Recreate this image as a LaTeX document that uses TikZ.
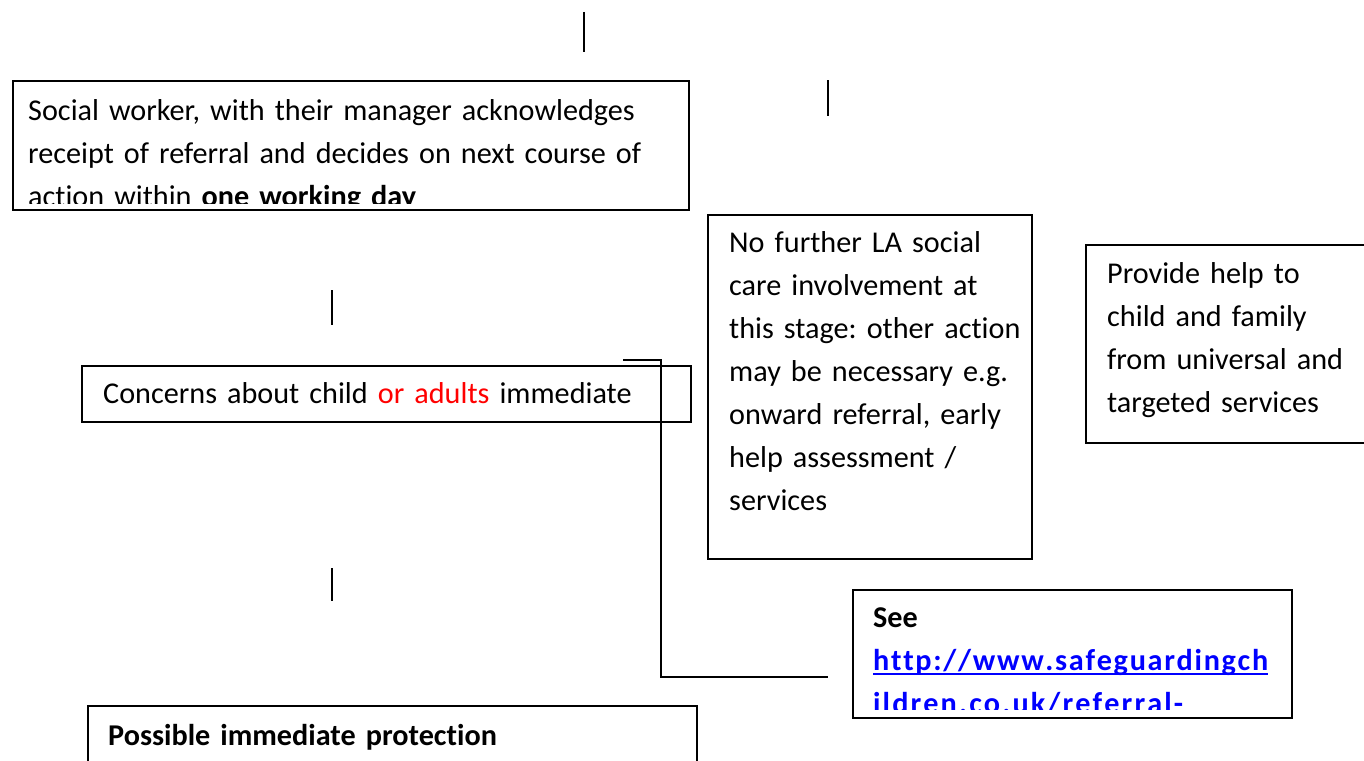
\documentclass[tikz,border=0pt]{standalone}
\usepackage{fontspec}
\setmainfont{Carlito}[Ligatures={NoCommon}]
\definecolor{linkblue}{RGB}{0,0,255}
\makeatletter
\newcommand{\spreadto}[2]{\hbox to #1{\@tfor\@ch:=#2\do{\@ch\hfil}\unskip}}
\makeatother
\newcommand{\ulink}[1]{\setbox0\hbox{#1}\rlap{\rule[-5pt]{\wd0}{2pt}}\box0}
\begin{document}
\begin{tikzpicture}[x=1pt,y=-1pt,
  frame/.style={draw=black, line width=2pt, inner sep=0pt, outer sep=0pt, anchor=north west, rectangle},
  txt/.style={anchor=base west, inner sep=0pt, align=left, text width=#1, font=\fontsize{30.2}{43}\selectfont\frenchspacing},
  conn/.style={draw=black, line width=2pt},
  tick/.style={draw=black, line width=2pt}]
\useasboundingbox (0,0) rectangle (1364,760);

% texts (clipped to their boxes)
\begin{scope}
\clip (13,81) rectangle (689,203);
\node[txt=700] (t1) at (28,120) {Social worker, with their manager acknowledges\\receipt of referral and decides on next course of\\action within \textbf{one working day}};
\end{scope}
\node[txt=700] (t2) at (103,403) {Concerns about child \textcolor{red}{or adults} immediate};
\node[txt=320] (t3) at (729,252) {No further LA social\\care involvement at\\this stage: other action\\may be necessary e.g.\\onward referral, early\\help assessment /\\services};
\node[txt=300] (t4) at (1107,283) {Provide help to\\child and family\\from universal and\\targeted services};
\begin{scope}
\clip (853,590) rectangle (1292,709);
\node[txt=440] (t5) at (873,627) {\textbf{See}\\\textbf{\textcolor{linkblue}{\ulink{\spreadto{395pt}{http://www.safeguardingch}}}}\\\textbf{\textcolor{linkblue}{\ulink{\spreadto{310pt}{ildren.co.uk/referral-}}}}};
\end{scope}
\node[txt=600] (t6) at (108,745) {\textbf{Possible immediate protection}};

% boxes
\node[frame, minimum width=676, minimum height=129] (b1) at (13,81) {};
\node[frame, minimum width=609, minimum height=56] (b2) at (82,366) {};
\node[frame, minimum width=324, minimum height=344] (b3) at (708,215) {};
\node[frame, minimum width=320, minimum height=198] (b4) at (1086,245) {};
\node[frame, minimum width=439, minimum height=128] (b5) at (853,590) {};
\node[frame, minimum width=609, minimum height=100] (b6) at (88,706) {};

% connector
\coordinate (c0) at (623,360);
\coordinate (c1) at (828,677);
\draw[conn] (c0) -- ++(38,0) |- (c1);

% short stubs
\coordinate (s1a) at (584,12);  \coordinate (s1b) at (584,52);
\coordinate (s2a) at (828,80);  \coordinate (s2b) at (828,116);
\coordinate (s3a) at (332,290); \coordinate (s3b) at (332,325);
\coordinate (s4a) at (332,568); \coordinate (s4b) at (332,601);
\draw[tick] (s1a) -- (s1b);
\draw[tick] (s2a) -- (s2b);
\draw[tick] (s3a) -- (s3b);
\draw[tick] (s4a) -- (s4b);
\end{tikzpicture}
\end{document}
